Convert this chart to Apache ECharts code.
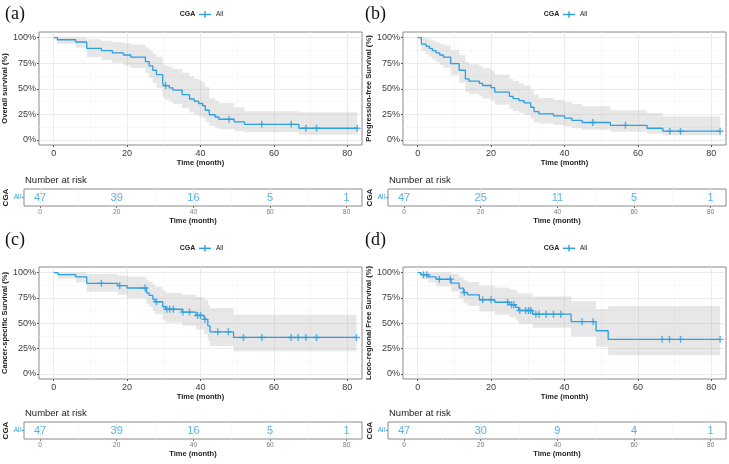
<!DOCTYPE html>
<html><head><meta charset="utf-8">
<script src="https://cdn.jsdelivr.net/npm/echarts@6/dist/echarts.min.js"></script>
<style>html,body{margin:0;padding:0;background:#fff}#c{width:729px;height:464px}</style>
</head><body><div id="c"></div>
<script>
// ---------- DATA ----------
// (a) Overall survival
const timesA  = [0, 1, 6, 9, 13, 16, 19, 21, 25, 26, 27, 28, 29.7, 30.2, 31.5, 32.5, 35, 37, 38.3, 39.5, 40.6, 41.3, 42.4, 44, 45, 49.2, 52, 66.8, 82.7];
const survA   = [100, 97.9, 95.7, 89.4, 87.2, 85.1, 83.0, 80.9, 76.6, 72.3, 68.1, 63.8, 55.3, 53.1, 50.9, 48.7, 44.3, 40.0, 37.8, 35.6, 33.4, 29.0, 24.6, 22.4, 20.2, 17.7, 15.2, 11.4, 11.4];
const lowerA  = [100, 93.9, 90.2, 81.0, 78.2, 75.5, 72.8, 70.3, 65.3, 60.4, 55.6, 50.9, 41.8, 39.6, 37.4, 35.2, 30.9, 26.9, 24.9, 23.0, 21.1, 17.4, 13.5, 12.0, 10.5, 8.5, 7.5, 5.0, 5.0];
const upperA  = [100, 100, 100, 98.5, 97.0, 95.8, 94.6, 93.3, 90.6, 87.5, 84.5, 81.3, 74.5, 72.8, 71.0, 69.2, 65.6, 61.9, 59.9, 57.8, 55.8, 51.7, 41.0, 38.0, 36.0, 32.0, 28.0, 27.0, 27.0];
const censorA = [30.5, 47.8, 56.7, 64.7, 68.7, 71.6, 82.7];
const riskA   = [47, 39, 16, 5, 1];

// (b) Progression-free survival
const timesB  = [0, 1, 2.3, 3.2, 4, 5, 6, 7, 9, 11.3, 13, 14, 16.8, 17.7, 20, 21, 25, 26, 27.6, 29, 30.8, 31.7, 33, 37, 40, 42, 44.8, 52.5, 62.5, 66.8, 82.4];
const survB   = [100, 93.6, 91.5, 89.4, 87.2, 85.1, 83.0, 80.9, 74.5, 68.1, 59.6, 57.4, 55.3, 53.2, 51.1, 46.8, 42.6, 40.4, 38.3, 36.2, 31.9, 27.7, 25.5, 23.4, 21.3, 19.1, 17.0, 14.2, 11.4, 8.5, 8.5];
const lowerB  = [100, 86.9, 84.0, 81.2, 78.5, 75.8, 73.2, 70.6, 63.1, 55.8, 46.8, 44.6, 42.5, 40.4, 38.4, 34.3, 30.3, 28.3, 26.4, 24.5, 20.7, 17.1, 16.0, 14.5, 13.0, 11.5, 10.0, 8.0, 6.0, 4.5, 4.5];
const upperB  = [100, 100, 99.7, 98.4, 97.0, 95.5, 94.1, 92.6, 87.9, 83.0, 75.8, 73.9, 72.0, 70.0, 68.0, 64.0, 59.8, 57.7, 55.5, 53.3, 48.9, 44.5, 41.0, 39.0, 37.0, 35.0, 33.0, 29.0, 26.0, 23.0, 23.0];
const censorB = [47.7, 56.6, 68.7, 71.6, 82.4];
const riskB   = [47, 25, 11, 5, 1];

// (c) Cancer-specific survival
const timesC  = [0, 1.2, 6, 9, 17.5, 20, 25.3, 26, 27, 27.6, 29.7, 30.5, 35, 38.8, 41, 42, 42.6, 49, 82.5];
const survC   = [100, 97.9, 95.7, 89.4, 87.1, 84.8, 80.0, 77.5, 73.8, 71.2, 66.3, 63.8, 61.0, 57.7, 53.8, 47.5, 41.5, 36.0, 36.0];
const lowerC  = [100, 93.9, 90.2, 81.0, 78.0, 75.0, 69.0, 66.0, 61.8, 58.9, 53.4, 50.7, 47.6, 43.8, 39.5, 33.0, 27.5, 22.5, 22.5];
const upperC  = [100, 100, 100, 98.5, 97.2, 95.8, 92.7, 91.0, 88.2, 86.1, 82.2, 80.2, 78.2, 75.8, 73.1, 68.2, 65.0, 58.5, 58.5];
const censorC = [13, 18, 24.9, 28, 30.8, 31.6, 32.6, 35.2, 37, 39.2, 40, 41.2, 44.7, 47.6, 51.7, 56.7, 64.7, 66.6, 68.7, 71.6, 82.5];
const riskC   = [47, 39, 16, 5, 1];

// (d) Loco-regional free survival
const timesD  = [0, 0.9, 2.9, 5, 9.1, 11.3, 12.5, 13.6, 16.8, 21, 25, 26.7, 27.5, 31.3, 41.8, 48.6, 51.9, 82.4];
const survD   = [100, 97.9, 95.7, 93.4, 89.5, 84.6, 80.3, 78.0, 73.2, 70.7, 68.3, 65.6, 62.6, 59.0, 51.6, 42.6, 34.1, 34.1];
const lowerD  = [100, 93.9, 90.2, 86.6, 81.3, 75.0, 69.8, 67.0, 61.5, 58.6, 55.8, 52.8, 49.5, 45.6, 37.0, 26.7, 18.5, 18.5];
const upperD  = [100, 100, 100, 100, 98.5, 95.5, 92.4, 90.8, 87.1, 85.2, 83.5, 81.5, 79.3, 76.5, 71.8, 64.0, 67.0, 67.0];
const censorD = [1.6, 2.5, 5.9, 8.9, 12.7, 17.7, 20, 24.5, 25.6, 26.2, 27.8, 29.4, 30.2, 30.8, 32.2, 33.1, 35, 37, 39, 44.8, 47.8, 66.6, 68.6, 71.6, 82.4];
const riskD   = [47, 30, 9, 4, 1];

// axes / labels
const riskTimes = [0, 20, 40, 60, 80];
const xTicks = [0, 20, 40, 60, 80];
const xMinor = [10, 30, 50, 70];
const yTicks = [0, 25, 50, 75, 100];
const yMinor = [12.5, 37.5, 62.5, 87.5];
const groupName = 'CGA';
const strataName = 'All';
const xTitle = 'Time (month)';
const riskTitle = 'Number at risk';
const yTitles = ['Overall survival (%)', 'Progression-free Survival (%)', 'Cancer-specific Survival (%)', 'Loco-regional Free Survival (%)'];
const panelLabels = ['(a)', '(b)', '(c)', '(d)'];

// ---------- LAYOUT ----------
const BLUE = '#2E9FDF';
const FONT = '"Liberation Sans", Arial, sans-serif';
const layout = [
  {main: {left: 39,  top: 32,  width: 323, height: 113}, table: {left: 24,  top: 189, width: 338, height: 17}, lab: [5, 14], leg: [187.5, 14.5], risk: [25, 180]},
  {main: {left: 403, top: 32,  width: 323, height: 113}, table: {left: 388, top: 189, width: 338, height: 17}, lab: [365, 14], leg: [551.5, 14.5], risk: [389, 180]},
  {main: {left: 39,  top: 267, width: 323, height: 112}, table: {left: 24,  top: 422, width: 338, height: 17}, lab: [5, 240], leg: [187.5, 248.3], risk: [25, 413.5]},
  {main: {left: 403, top: 267, width: 323, height: 112}, table: {left: 388, top: 422, width: 338, height: 17}, lab: [365, 240], leg: [551.5, 248.3], risk: [389, 413.5]}
];
const panels = [
  {t: timesA, s: survA, lo: lowerA, up: upperA, c: censorA, r: riskA},
  {t: timesB, s: survB, lo: lowerB, up: upperB, c: censorB, r: riskB},
  {t: timesC, s: survC, lo: lowerC, up: upperC, c: censorC, r: riskC},
  {t: timesD, s: survD, lo: lowerD, up: upperD, c: censorD, r: riskD}
];

function survAt(times, surv, t) {
  let v = surv[0];
  for (let i = 0; i < times.length; i++) if (times[i] <= t) v = surv[i];
  return v;
}
const PLUS = 'path://M4,0H6V4H10V6H6V10H4V6H0V4H4Z';

const grids = [], xAxes = [], yAxes = [], series = [], graphics = [];

panels.forEach((p, i) => {
  const L = layout[i];
  const gm = 2 * i, gt = 2 * i + 1;
  grids.push(Object.assign({show: true, borderColor: '#8a8a8a', borderWidth: 1, backgroundColor: '#fff'}, L.main));
  grids.push(Object.assign({show: true, borderColor: '#8a8a8a', borderWidth: 1, backgroundColor: '#fff'}, L.table));

  xAxes.push({
    type: 'value', gridIndex: gm, min: -4, max: 84,
    axisLine: {show: false, onZero: false},
    axisTick: {show: true, length: 2, lineStyle: {color: '#555'}, customValues: xTicks},
    axisLabel: {fontSize: 9, color: '#3a3a3a', margin: 4, fontFamily: FONT, customValues: xTicks},
    splitLine: {show: false},
    name: xTitle, nameLocation: 'middle', nameGap: 13,
    nameTextStyle: {fontSize: 7.5, fontWeight: 'bold', color: '#222', fontFamily: FONT}
  });
  xAxes.push({
    type: 'value', gridIndex: gt, min: -4.2, max: 84,
    axisLine: {show: false, onZero: false},
    axisTick: {show: true, length: 2, lineStyle: {color: '#777'}, customValues: xTicks},
    axisLabel: {fontSize: 6.5, color: '#777', margin: 3, fontFamily: FONT, customValues: xTicks},
    splitLine: {show: false},
    name: xTitle, nameLocation: 'middle', nameGap: 10,
    nameTextStyle: {fontSize: 7.5, fontWeight: 'bold', color: '#222', fontFamily: FONT}
  });
  yAxes.push({
    type: 'value', gridIndex: gm, min: -5, max: 105.5,
    axisLine: {show: false, onZero: false},
    axisTick: {show: true, length: 2, lineStyle: {color: '#555'}, customValues: yTicks},
    axisLabel: {fontSize: 9, color: '#3a3a3a', margin: 3, fontFamily: FONT, customValues: yTicks, formatter: v => v + '%'},
    splitLine: {show: false},
    name: yTitles[i], nameLocation: 'middle', nameGap: 23, nameRotate: 90,
    nameTextStyle: {fontSize: 7.6, fontWeight: 'bold', color: '#222', fontFamily: FONT}
  });
  yAxes.push({
    type: 'category', gridIndex: gt, data: [strataName],
    axisLine: {show: false, onZero: false},
    axisTick: {show: true, length: 2, alignWithLabel: true, lineStyle: {color: BLUE}},
    axisLabel: {fontSize: 6.5, color: BLUE, margin: 3, fontFamily: FONT},
    splitLine: {show: false},
    name: groupName, nameLocation: 'middle', nameGap: 12, nameRotate: 90,
    nameTextStyle: {fontSize: 8, fontWeight: 'bold', color: '#222', fontFamily: FONT}
  });

  // background grid lines
  const major = {color: '#e6e6e6', width: 0.8, type: 'solid'};
  const minor = {color: '#f2f2f2', width: 0.6, type: 'solid'};
  series.push({
    type: 'line', xAxisIndex: gm, yAxisIndex: gm, data: [[0, 0]], showSymbol: false,
    lineStyle: {width: 0, opacity: 0}, silent: true, z: 1,
    markLine: {
      z: 1, silent: true, symbol: ['none', 'none'], label: {show: false}, animation: false,
      data: [].concat(
        xTicks.map(v => ({xAxis: v, lineStyle: major})),
        xMinor.map(v => ({xAxis: v, lineStyle: minor})),
        yTicks.map(v => ({yAxis: v, lineStyle: major})),
        yMinor.map(v => ({yAxis: v, lineStyle: minor}))
      )
    }
  });
  series.push({
    type: 'line', xAxisIndex: gt, yAxisIndex: gt, data: [[0, strataName]], showSymbol: false,
    lineStyle: {width: 0, opacity: 0}, silent: true, z: 1,
    markLine: {
      z: 1, silent: true, symbol: ['none', 'none'], label: {show: false}, animation: false,
      data: [].concat(
        xTicks.map(v => ({xAxis: v, lineStyle: major})),
        xMinor.map(v => ({xAxis: v, lineStyle: minor}))
      )
    }
  });

  // confidence band: stepped polygon built through the axis scales
  series.push({
    type: 'custom', xAxisIndex: gm, yAxisIndex: gm, data: [[0, 0]], silent: true, z: 2, clip: true,
    renderItem: (params, api) => {
      const n = p.t.length, pts = [];
      for (let k = 0; k < n; k++) {
        pts.push(api.coord([p.t[k], p.up[k]]));
        if (k < n - 1) pts.push(api.coord([p.t[k + 1], p.up[k]]));
      }
      for (let k = n - 1; k >= 0; k--) {
        if (k < n - 1) pts.push(api.coord([p.t[k + 1], p.lo[k]]));
        pts.push(api.coord([p.t[k], p.lo[k]]));
      }
      return {type: 'polygon', shape: {points: pts}, style: {fill: 'rgba(160,160,160,0.25)', stroke: null}};
    }
  });
  // KM curve
  series.push({
    name: strataName, type: 'line', xAxisIndex: gm, yAxisIndex: gm, step: 'end',
    data: p.t.map((t, k) => [t, p.s[k]]), showSymbol: false, symbol: 'none',
    lineStyle: {color: BLUE, width: 1.3}, itemStyle: {color: BLUE}, z: 3
  });
  // censor marks
  series.push({
    type: 'scatter', xAxisIndex: gm, yAxisIndex: gm,
    data: p.c.map(t => [t, survAt(p.t, p.s, t)]),
    symbol: PLUS, symbolSize: 7, itemStyle: {color: BLUE}, z: 4, silent: true
  });
  // risk table numbers
  series.push({
    type: 'scatter', xAxisIndex: gt, yAxisIndex: gt,
    data: riskTimes.map((t, k) => [t, strataName, p.r[k]]),
    symbolSize: 1, itemStyle: {color: 'rgba(0,0,0,0)'}, silent: true, z: 4,
    label: {show: true, position: 'inside', formatter: q => String(q.value[2]), fontSize: 11, color: BLUE, fontFamily: FONT}
  });

  // panel label, legend, risk title
  graphics.push({type: 'text', x: L.lab[0], y: L.lab[1], style: {text: panelLabels[i], font: '18px "Liberation Serif", "Times New Roman", serif', fill: '#111', textAlign: 'left', textVerticalAlign: 'middle'}});
  const lx = L.leg[0], ly = L.leg[1];
  graphics.push({type: 'text', x: lx, y: ly, style: {text: groupName, font: 'bold 7px ' + FONT, fill: '#222', textAlign: 'center', textVerticalAlign: 'middle'}});
  graphics.push({type: 'line', shape: {x1: lx + 11.5, y1: ly, x2: lx + 23.5, y2: ly}, style: {stroke: BLUE, lineWidth: 1.4}});
  graphics.push({type: 'line', shape: {x1: lx + 17.5, y1: ly - 3.2, x2: lx + 17.5, y2: ly + 3.2}, style: {stroke: BLUE, lineWidth: 1.4}});
  graphics.push({type: 'text', x: lx + 28.5, y: ly, style: {text: strataName, font: '6.5px ' + FONT, fill: '#222', textAlign: 'left', textVerticalAlign: 'middle'}});
  graphics.push({type: 'text', x: L.risk[0], y: L.risk[1], style: {text: riskTitle, font: '9.5px ' + FONT, fill: '#222', textAlign: 'left', textVerticalAlign: 'middle'}});
});

const chart = echarts.init(document.getElementById('c'), null, {renderer: 'canvas'});
chart.setOption({
  animation: false,
  backgroundColor: '#fff',
  grid: grids, xAxis: xAxes, yAxis: yAxes, series: series,
  graphic: graphics
});
</script></body></html>
